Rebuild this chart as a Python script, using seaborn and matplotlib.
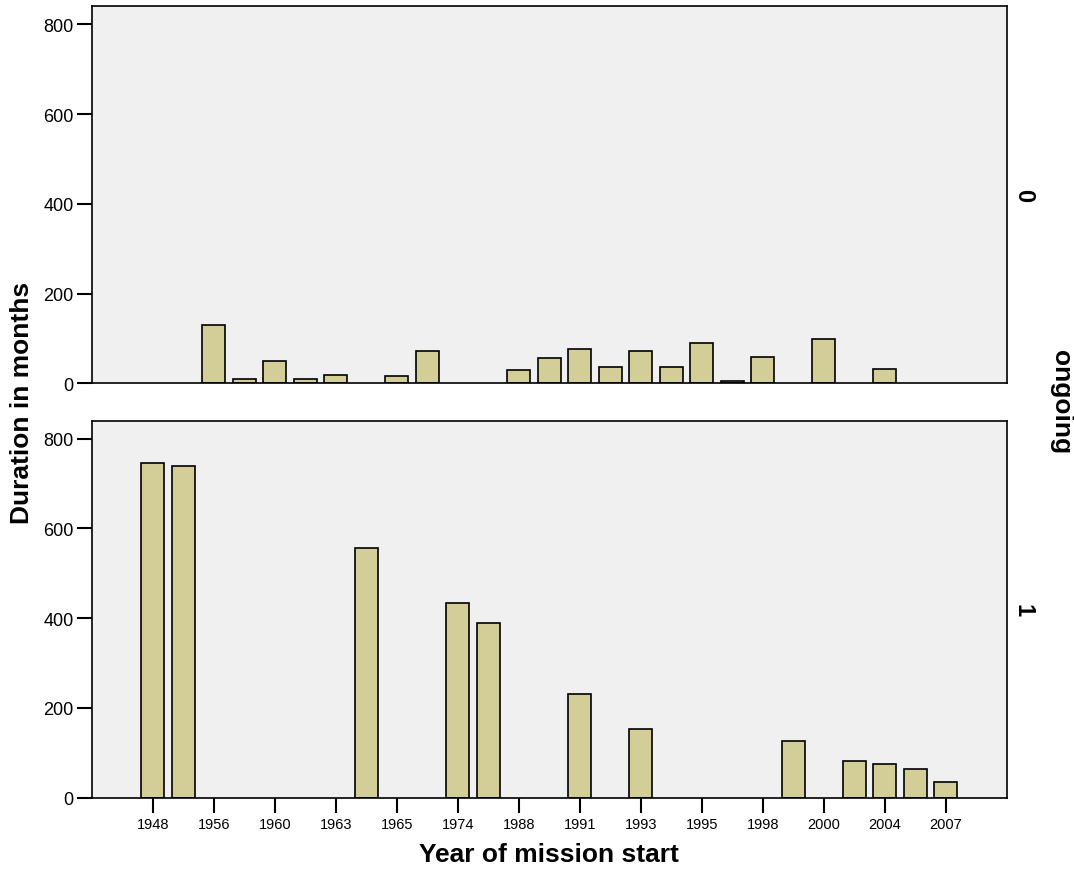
import matplotlib
matplotlib.use("Agg")
import matplotlib.pyplot as plt
import pandas as pd
import seaborn as sns

# categories on the x axis (year of mission start)
years = ["1948", "1949", "1956", "1958", "1960", "1962", "1963", "1964", "1965",
         "1973", "1974", "1978", "1988", "1989", "1991", "1992", "1993", "1994",
         "1995", "1997", "1998", "1999", "2000", "2003", "2004", "2005", "2007"]
tick_years = years[::2]

# ongoing = 0 (finished missions)
done_years = ["1956", "1958", "1960", "1962", "1963", "1965", "1973", "1988", "1989",
              "1991", "1992", "1993", "1994", "1995", "1997", "1998", "2000", "2004"]
done_months = [130, 10, 50, 10, 18, 16, 72, 30, 56, 76, 36, 71, 36, 90, 5, 59, 99, 33]

# ongoing = 1 (still running)
run_years = ["1948", "1949", "1964", "1974", "1978", "1991", "1993", "1999",
             "2003", "2004", "2005", "2007"]
run_months = [746, 738, 556, 433, 389, 232, 154, 126, 82, 75, 64, 36]

df = pd.concat([
    pd.DataFrame({"year": done_years, "months": done_months, "ongoing": 0}),
    pd.DataFrame({"year": run_years, "months": run_months, "ongoing": 1}),
])

sns.set_style("white")
plt.rcParams["font.family"] = ["Liberation Sans", "DejaVu Sans"]
plt.rcParams["text.color"] = "black"

bar_color = "#d3ce97"
panel_bg = "#f0f0f0"

fig, axes = plt.subplots(2, 1, figsize=(10.74, 8.7), dpi=100, sharex=True)
fig.subplots_adjust(left=0.0854, right=0.9373, top=0.9916, bottom=0.082, hspace=0.099)

for ax, flag in zip(axes, [0, 1]):
    sub = df[df["ongoing"] == flag]
    sns.barplot(data=sub, x="year", y="months", order=years, color=bar_color,
                width=0.75, errorbar=None, edgecolor="black", linewidth=1.2,
                saturation=1, ax=ax)
    ax.set_facecolor(panel_bg)
    ax.set_xlim(-2, len(years) + 1)
    ax.set_ylim(0, 840)
    ax.set_yticks([0, 200, 400, 600, 800])
    ax.set_xlabel("")
    ax.set_ylabel("")
    for s in ax.spines.values():
        s.set_visible(True)
        s.set_color("black")
        s.set_linewidth(1.2)
    ax.tick_params(axis="y", direction="out", length=11, width=1.5, colors="black",
                   labelsize=13, left=True, pad=2)
    ax.text(1.018, 0.5, str(flag), transform=ax.transAxes, rotation=-90,
            ha="center", va="center", fontsize=17, fontweight="bold", color="black")

axes[0].tick_params(axis="x", bottom=False, labelbottom=False)
axes[1].set_xticks([years.index(y) for y in tick_years])
axes[1].set_xticklabels(tick_years)
axes[1].tick_params(axis="x", direction="out", length=11, width=1.5, colors="black",
                    labelsize=10.5, bottom=True, pad=3)

fig.text(549 / 1074, 1 - 855 / 870, "Year of mission start", ha="center", va="center",
         fontsize=19, fontweight="bold", color="black")
fig.text(22 / 1074, 1 - 403 / 870, "Duration in months", ha="center", va="center",
         rotation=90, fontsize=19, fontweight="bold", color="black")
fig.text(1061 / 1074, 1 - 402 / 870, "ongoing", ha="center", va="center",
         rotation=-90, fontsize=19, fontweight="bold", color="black")

fig.savefig("out.png", dpi=100, facecolor="white")
